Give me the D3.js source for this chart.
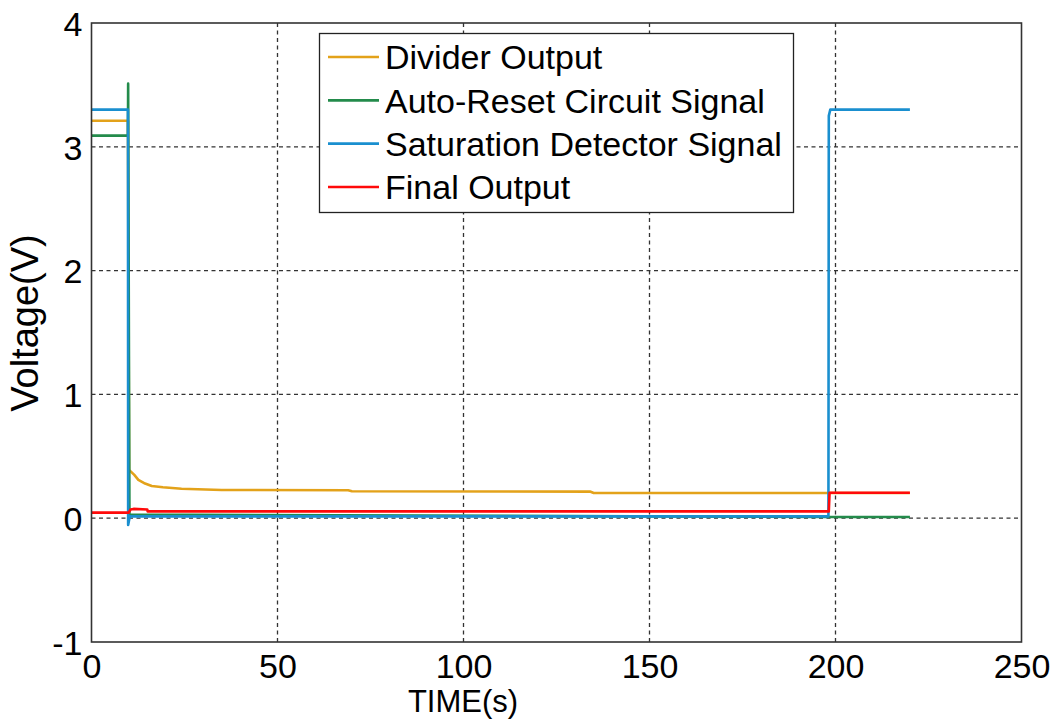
<!DOCTYPE html>
<html>
<head>
<meta charset="utf-8">
<script src="https://cdn.jsdelivr.net/npm/d3@7"></script>
<style>
  html, body { margin: 0; padding: 0; background: #fff; }
  svg { display: block; }
  text { font-family: "Liberation Sans", Arial, sans-serif; fill: #000; }
</style>
</head>
<body>
<svg id="chart" width="1057" height="720"></svg>
<script>
// Time (s) / voltage (V) samples for each trace
const dividerOutput = [
  [0, 3.21], [9.8, 3.21], [10.1, 0.39], [11.5, 0.35], [12.6, 0.31], [14.4, 0.28],
  [16.2, 0.26], [19.2, 0.25], [24.2, 0.238], [35, 0.228], [69, 0.226], [70, 0.218],
  [134, 0.215], [135, 0.204], [220, 0.204]
];
const autoResetSignal = [
  [0, 3.09], [9.8, 3.09], [9.85, 3.51], [10.1, 0.95], [10.2, 0.03], [198, 0.01], [220, 0.01]
];
const saturationSignal = [
  [0, 3.30], [9.8, 3.30], [9.85, -0.055], [10.3, 0.015], [198.1, 0.015],
  [198.2, 3.25], [198.6, 3.30], [220, 3.30]
];
const finalOutput = [
  [0, 0.045], [10, 0.045], [10.5, 0.07], [11.3, 0.075], [15, 0.07], [15.1, 0.055],
  [198.2, 0.055], [198.4, 0.206], [220, 0.206]
];

const seriesNames = ["Divider Output", "Auto-Reset Circuit Signal", "Saturation Detector Signal", "Final Output"];
const seriesData = [dividerOutput, autoResetSignal, saturationSignal, finalOutput];
const seriesColors = ["#E3A21A", "#238B4B", "#1A8FCF", "#FF0A0A"];

const xTicks = [0, 50, 100, 150, 200, 250];
const yTicks = [-1, 0, 1, 2, 3, 4];

const svg = d3.select("#chart");
const plot = { left: 91.5, right: 1021.5, top: 23, bottom: 642 };

const x = d3.scaleLinear().domain([0, 250]).range([plot.left, plot.right]);
const y = d3.scaleLinear().domain([-1, 4]).range([plot.bottom, plot.top]);

// dashed grid
const grid = svg.append("g").attr("stroke", "#333").attr("stroke-width", 1.3)
  .attr("stroke-dasharray", "4,3.5");
grid.selectAll("line.gx").data(xTicks.slice(1, -1)).join("line")
  .attr("x1", d => x(d)).attr("x2", d => x(d))
  .attr("y1", plot.top).attr("y2", plot.bottom);
grid.selectAll("line.gy").data(yTicks.slice(1, -1)).join("line")
  .attr("y1", d => y(d)).attr("y2", d => y(d))
  .attr("x1", plot.left).attr("x2", plot.right);

// tick labels (plain hyphen for negatives)
const fmt = d => String(d);
const xAxis = d3.axisBottom(x).tickValues(xTicks).tickFormat(fmt).tickSize(0).tickPadding(0);
const gx = svg.append("g").attr("transform", `translate(0,${plot.bottom})`).call(xAxis);
gx.select(".domain").remove();
gx.selectAll("text").attr("font-size", 34).attr("font-family", "Liberation Sans, Arial, sans-serif")
  .attr("dy", null).attr("y", 36).attr("fill", "#000");

const yAxis = d3.axisLeft(y).tickValues(yTicks).tickFormat(fmt).tickSize(0).tickPadding(0);
const gy = svg.append("g").attr("transform", `translate(${plot.left - 9},0)`).call(yAxis);
gy.select(".domain").remove();
gy.selectAll("text").attr("font-size", 34).attr("font-family", "Liberation Sans, Arial, sans-serif")
  .attr("dy", "0.36em").attr("x", 0).attr("fill", "#000");

// traces
const line = d3.line().x(d => x(d[0])).y(d => y(d[1]));
svg.append("g").selectAll("path").data(seriesData).join("path")
  .attr("d", line)
  .attr("fill", "none")
  .attr("stroke", (d, i) => seriesColors[i])
  .attr("stroke-width", 2.6)
  .attr("stroke-linejoin", "round");

// axes box
svg.append("rect")
  .attr("x", plot.left).attr("y", plot.top)
  .attr("width", plot.right - plot.left).attr("height", plot.bottom - plot.top)
  .attr("fill", "none").attr("stroke", "#333").attr("stroke-width", 1.6);

// axis titles
svg.append("text").attr("x", 463).attr("y", 712).attr("text-anchor", "middle")
  .attr("font-size", 31).text("TIME(s)");
svg.append("text").attr("transform", "translate(38,323) rotate(-90)")
  .attr("text-anchor", "middle").attr("font-size", 38).text("Voltage(V)");

// legend
const legend = svg.append("g");
legend.append("rect").attr("x", 319.5).attr("y", 33.5).attr("width", 474).attr("height", 179)
  .attr("fill", "#fff").attr("stroke", "#222").attr("stroke-width", 1.3);
const rowY = d3.scalePoint().domain(seriesNames).range([57, 187]);
const rows = legend.selectAll("g.row").data(seriesNames).join("g")
  .attr("transform", d => `translate(0,${rowY(d)})`);
rows.append("line").attr("x1", 328).attr("x2", 379).attr("y1", 0).attr("y2", 0)
  .attr("stroke", (d, i) => seriesColors[i]).attr("stroke-width", 2.6);
rows.append("text").attr("x", 385).attr("y", 0).attr("dy", "0.36em")
  .attr("font-size", 34).text(d => d);
</script>
</body>
</html>
